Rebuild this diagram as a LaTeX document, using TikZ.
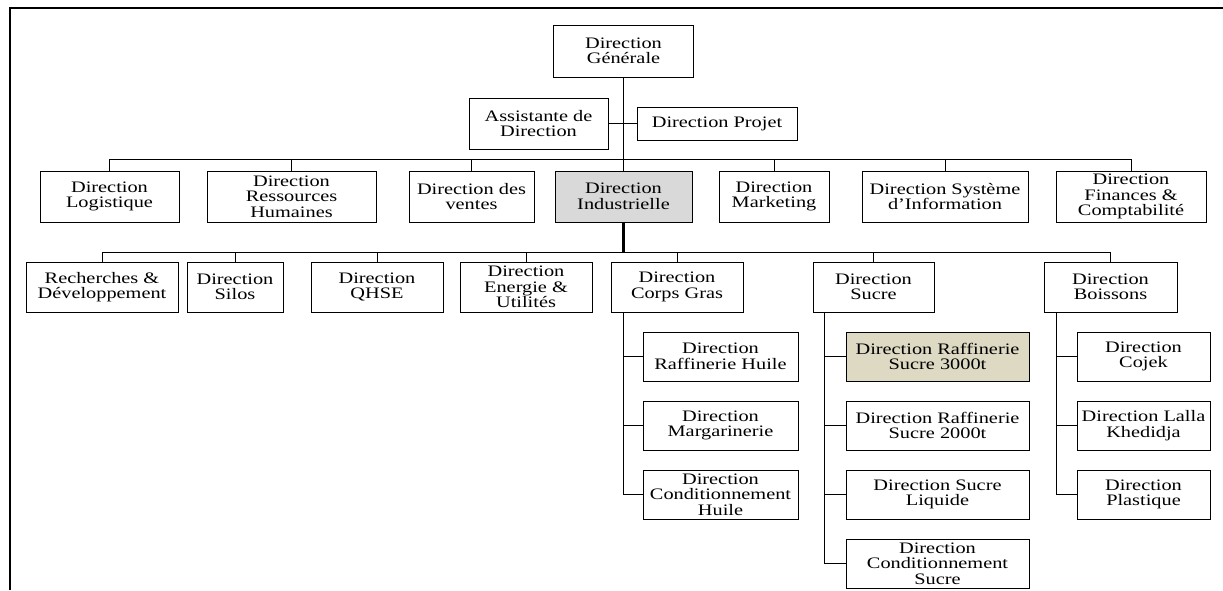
\documentclass[tikz,border=0pt]{standalone}
\usepackage{fontspec}
\setmainfont[FakeStretch=1.27]{Liberation Serif}
\usepackage{xcolor}
\usepackage{tikz}
\usetikzlibrary{positioning}

\definecolor{grisind}{RGB}{217,217,217}
\definecolor{beigesucre}{RGB}{221,217,195}

\begin{document}
\begin{tikzpicture}[x=1pt,y=-1pt,line width=1pt,
    every node/.style={on grid,node distance=69pt},
    dirbox/.style={draw,line width=1pt,align=center,inner sep=0pt,minimum height=50pt,
      font=\fontsize{16}{15.5}\selectfont},
    subbox/.style={dirbox,minimum height=49pt}]
  \useasboundingbox (0,0) rectangle (1223,590);
  \draw[line width=2pt] (10,590) -- (10,8) -- (1223,8);

  % direction generale
  \node[dirbox,minimum width=140pt,minimum height=52pt] (DG) at (623.5,51) {Direction\\Générale};
  \node[dirbox,minimum width=139pt,minimum height=51pt] (Asst) at (538.5,123.5) {Assistante de\\Direction};
  \node[dirbox,minimum width=160pt,minimum height=33pt] (Proj) at (717,123.5) {Direction Projet};

  % niveau 2
  \node[dirbox,minimum width=139pt,minimum height=51pt] (Log) at (109.5,196.5) {Direction\\Logistique};
  \node[dirbox,minimum width=169pt,minimum height=51pt] (RH) at (291.5,196.5) {Direction\\Ressources\\Humaines};
  \node[dirbox,minimum width=125pt,minimum height=51pt] (Ven) at (471.5,196.5) {Direction des\\ventes};
  \node[dirbox,minimum width=137pt,minimum height=51pt,fill=grisind] (Ind) at (623.5,196.5) {Direction\\Industrielle};
  \node[dirbox,minimum width=110pt,minimum height=51pt] (Mkt) at (774,196.5) {Direction\\Marketing};
  \node[dirbox,minimum width=166pt,minimum height=51pt] (SI) at (945,196.5) {Direction Système\\d’Information};
  \node[dirbox,minimum width=150pt,minimum height=51pt] (Fin) at (1131,196.5) {Direction\\Finances \&\\Comptabilité};

  % niveau 3
  \node[dirbox,minimum width=152pt] (RD) at (102,287) {Recherches \&\\Développement};
  \node[dirbox,minimum width=96pt] (Silo) at (235,287) {Direction\\Silos};
  \node[dirbox,minimum width=132pt] (QHSE) at (377,287) {Direction\\QHSE};
  \node[dirbox,minimum width=132pt] (Ener) at (526,287) {Direction\\Energie \&\\Utilités};
  \node[dirbox,minimum width=132pt] (CG) at (677,287) {Direction\\Corps Gras};
  \node[dirbox,minimum width=121pt] (Suc) at (873.5,287) {Direction\\Sucre};
  \node[dirbox,minimum width=133pt] (Boi) at (1110.5,287) {Direction\\Boissons};

  % corps gras
  \node[subbox,minimum width=155pt] (RafH) at (720.5,356.5) {Direction\\Raffinerie Huile};
  \node[subbox,minimum width=155pt,below of=RafH] (Marg) {Direction\\Margarinerie};
  \node[subbox,minimum width=155pt,below of=Marg] (CondH) {Direction\\Conditionnement\\Huile};

  % sucre
  \node[subbox,minimum width=183pt,fill=beigesucre] (Raf3) at (937.5,356.5) {Direction Raffinerie\\Sucre 3000t};
  \node[subbox,minimum width=183pt,below of=Raf3] (Raf2) {Direction Raffinerie\\Sucre 2000t};
  \node[subbox,minimum width=183pt,below of=Raf2] (Liq) {Direction Sucre\\Liquide};
  \node[subbox,minimum width=183pt,below of=Liq] (CondS) {Direction\\Conditionnement\\Sucre};

  % boissons
  \node[subbox,minimum width=133pt] (Coj) at (1143.5,356.5) {Direction\\Cojek};
  \node[subbox,minimum width=133pt,below of=Coj] (Lal) {Direction Lalla\\Khedidja};
  \node[subbox,minimum width=133pt,below of=Lal] (Pla) {Direction\\Plastique};

  % liaisons
  \draw (DG) -- (Ind);
  \draw (Asst) -- (Proj);
  \draw (Log.north) -- ++(0,-11) -| (Fin.north);
  \foreach \n in {RH,Ven,Mkt,SI}
    \draw (\n.north) -- ++(0,-11);
  \coordinate (bus3) at (623.5,253);
  \draw[line width=3.5pt] (Ind.south) -- (bus3);
  \draw (RD.north) -- ++(0,-9) -| (Boi.north);
  \foreach \n in {Silo,QHSE,Ener,CG,Suc}
    \draw (\n.north) -- ++(0,-9);
  \draw ([xshift=13pt]CG.south west) |- (CondH.west);
  \foreach \n in {RafH,Marg}
    \draw (\n.west) -- ++(-19,0);
  \draw ([xshift=12pt]Suc.south west) |- (CondS.west);
  \foreach \n in {Raf3,Raf2,Liq}
    \draw (\n.west) -- ++(-21,0);
  \draw ([xshift=13pt]Boi.south west) |- (Pla.west);
  \foreach \n in {Coj,Lal}
    \draw (\n.west) -- ++(-20,0);
\end{tikzpicture}
\end{document}
